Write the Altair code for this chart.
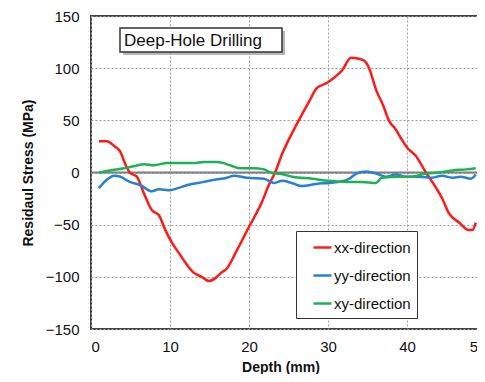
import altair as alt
import pandas as pd

# xx-direction (red)
xx_depth = [1.0, 2.0, 3.0, 3.7, 4.4, 4.9, 5.8, 6.7, 7.7, 8.6, 9.4, 10.3, 11.2, 12.2, 13.0, 14.0,
            14.9, 15.8, 16.5, 17.2, 18.3, 19.2, 20.0, 20.8, 21.6, 22.5, 23.3, 24.2, 25.0, 26.3,
            27.6, 28.6, 29.9, 30.8, 31.8, 32.9, 33.9, 34.6, 35.2, 36.1, 37.0, 37.7, 38.6, 39.3,
            40.0, 41.1, 42.4, 43.7, 44.4, 45.3, 46.6, 47.8, 48.3, 48.7]
xx_stress = [30, 30, 25, 20, 7, 0, -4, -20, -36, -41, -55, -68, -78, -89, -96, -100,
             -104, -101, -96, -92, -77, -64, -52, -41, -29, -12, 0, 18, 31, 50,
             68, 81, 86, 91, 98, 110, 109, 107, 100, 79, 64, 50, 41, 32,
             24, 16, 0, -15, -24, -39, -48, -55, -55, -48]

# yy-direction (blue)
yy_depth = [1.0, 2.0, 2.9, 3.7, 4.9, 6.2, 7.7, 8.6, 10.0, 11.0, 12.2, 14.3, 15.6, 17.2, 18.1,
            19.7, 21.9, 23.2, 24.2, 25.4, 26.7, 28.5, 30.1, 31.4, 32.7, 33.6, 34.8, 36.1,
            37.3, 38.6, 39.9, 41.5, 43.2, 44.4, 45.7, 46.8, 48.1, 48.7]
yy_stress = [-15, -7, -3, -4, -9, -12, -18, -16, -17, -15, -12, -9, -7, -5, -3,
             -5, -6, -10, -8, -10, -13, -11, -10, -9, -6, -1, 1, -1,
             -4, -2, -4, -4, -5, -3, -5, -4, -6, -2]

# xy-direction (green)
xy_depth = [1.0, 2.4, 4.2, 5.4, 6.7, 8.0, 9.6, 11.3, 13.0, 14.3, 16.0, 17.6, 18.9, 20.6,
            21.9, 22.7, 24.4, 25.5, 28.0, 30.1, 32.3, 34.3, 36.1, 36.8, 39.0, 40.6, 42.4,
            44.0, 45.7, 47.5, 48.7]
xy_stress = [0, 2, 4, 6, 8, 7, 9, 9, 9, 10, 10, 7, 4, 4,
             3, 0, -2, -4, -6, -8, -9, -9, -10, -5, -4, -4, -1,
             0, 2, 3, 4]

series_names = ["xx-direction", "yy-direction", "xy-direction"]
series_colors = ["#FF1A1A", "#2B7FD0", "#1DB154"]

x_ticks = [0, 10, 20, 30, 40, 50]
y_ticks = [-150, -100, -50, 0, 50, 100, 150]

rows = []
for name, ds, vs in zip(series_names, [xx_depth, yy_depth, xy_depth], [xx_stress, yy_stress, xy_stress]):
    for d, v in zip(ds, vs):
        rows.append({"depth": d, "stress": v, "series": name})
df = pd.DataFrame(rows)

FONT = "Liberation Sans"
W, H = 395, 313

lines = alt.Chart(df).mark_line(strokeWidth=2.5, interpolate="monotone").encode(
    x=alt.X("depth:Q", scale=alt.Scale(domain=[0, 50], nice=False),
            axis=alt.Axis(values=x_ticks, title="Depth (mm)", titleX=W / 2 - 8, titleY=38,
                          titleBaseline="middle", labelPadding=10)),
    y=alt.Y("stress:Q", scale=alt.Scale(domain=[-150, 150], nice=False),
            axis=alt.Axis(values=y_ticks, title="Residaul Stress (MPa)", titleX=-63, titleY=H / 2,
                          titleBaseline="middle", titleAngle=270, labelPadding=12)),
    color=alt.Color("series:N", scale=alt.Scale(domain=series_names, range=series_colors),
                    legend=alt.Legend(title=None, orient="none", legendX=205, legendY=215,
                                      fillColor="white", strokeColor="#333333", padding=6,
                                      symbolType="stroke", symbolSize=324, symbolStrokeWidth=2.5,
                                      symbolOffset=10, labelOffset=1, labelFontSize=15,
                                      labelFont=FONT, labelColor="#111111", rowPadding=9)),
    order="depth:Q",
    detail="series:N",
)

zero = alt.Chart(pd.DataFrame({"z": [0]})).mark_rule(color="#7f7f7f", strokeWidth=2).encode(
    y=alt.Y("z:Q")
)

one = pd.DataFrame({"a": [0]})
shadow = alt.Chart(one).mark_rect(fill="#9a9a9a", opacity=0.7).encode(
    x=alt.value(32), x2=alt.value(194), y=alt.value(15), y2=alt.value(39)
)
box = alt.Chart(one).mark_rect(fill="white", stroke="#333333", strokeWidth=1.5).encode(
    x=alt.value(29), x2=alt.value(191), y=alt.value(12), y2=alt.value(36)
)
box_text = alt.Chart(one).mark_text(text="Deep-Hole Drilling", font=FONT, fontSize=17,
                                    align="left", baseline="middle", color="#111111").encode(
    x=alt.value(33), y=alt.value(24.5)
)
top_line = alt.Chart(one).mark_rule(color="#dddddd", strokeWidth=1).encode(
    x=alt.value(-92), x2=alt.value(400), y=alt.value(-11)
)

chart = alt.layer(zero, lines, shadow, box, box_text, top_line).properties(
    width=W, height=H,
    autosize=alt.AutoSizeParams(type="none"),
    padding={"left": 83, "top": 8, "right": -9, "bottom": 45},
).configure_view(
    stroke="#444444", strokeWidth=2
).configure_axis(
    grid=True, gridColor="#9a9a9a", gridDash=[2, 2], gridWidth=1,
    ticks=False, domain=False,
    labelFont=FONT, labelFontSize=15, labelColor="#111111",
    titleFont=FONT, titleFontSize=14, titleFontWeight="bold", titleColor="#111111",
)

chart.save("out.html", embed_options={"renderer": "svg", "actions": False})
